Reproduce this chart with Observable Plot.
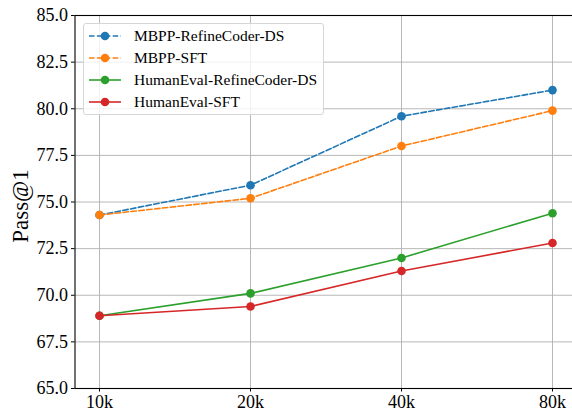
<!DOCTYPE html>
<html>
<head>
<meta charset="utf-8">
<script src="https://cdn.jsdelivr.net/npm/d3@7"></script>
<script src="https://cdn.jsdelivr.net/npm/@observablehq/plot@0.6"></script>
<style>
  html, body { margin: 0; padding: 0; background: white; overflow: hidden; }
  #wrap { position: relative; width: 572px; height: 416px; overflow: hidden; }
  #chart svg, #chart svg text { font-family: "Liberation Serif", "Times New Roman", serif !important; }
  #legend {
    position: absolute; left: 83px; top: 23px; width: 241px; height: 92px;
    box-sizing: border-box; border: 1px solid #d6d6d6; border-radius: 3px;
    background: rgba(255,255,255,0.8);
    font-family: "Liberation Serif", "Times New Roman", serif; font-size: 15.5px; color: #000;
  }
  .row { position: absolute; left: 0; height: 20px; display: flex; align-items: center; }
  .row svg { margin-left: 4px; }
  .row span { margin-left: 13px; white-space: nowrap; }
</style>
</head>
<body>
<div id="wrap"><div id="chart"></div><div id="legend"></div></div>
<script>
const sizes = ["10k", "20k", "40k", "80k"];
const seriesNames = ["MBPP-RefineCoder-DS", "MBPP-SFT", "HumanEval-RefineCoder-DS", "HumanEval-SFT"];
const mbppRefineCoder = [74.3, 75.9, 79.6, 81.0];
const mbppSFT = [74.3, 75.2, 78.0, 79.9];
const humanevalRefineCoder = [68.9, 70.1, 72.0, 74.4];
const humanevalSFT = [68.9, 69.4, 71.3, 72.8];
const colors = ["#1f77b4", "#ff7f0e", "#2ca02c", "#d62728"];
const dashed = [true, true, false, false];
const yTicks = [65, 67.5, 70, 72.5, 75, 77.5, 80, 82.5, 85];
const yLabel = "Pass@1";

const allValues = [mbppRefineCoder, mbppSFT, humanevalRefineCoder, humanevalSFT];
const series = seriesNames.map((name, i) => ({
  name, color: colors[i], dash: dashed[i] ? "5.5,2.4" : null,
  data: sizes.map((s, j) => ({size: s, value: allValues[i][j]}))
}));

const font = '"Liberation Serif", "Times New Roman", serif';
const marks = [
  Plot.gridX({stroke: "#b0b0b0", strokeOpacity: 1, strokeWidth: 0.9}),
  Plot.gridY(yTicks, {stroke: "#b0b0b0", strokeOpacity: 1, strokeWidth: 0.9}),
];
for (const s of series) {
  marks.push(Plot.line(s.data, {x: "size", y: "value", stroke: s.color, strokeWidth: 1.6,
    strokeDasharray: s.dash, curve: "linear"}));
  marks.push(Plot.dot(s.data, {x: "size", y: "value", fill: s.color, r: 4.3, stroke: "none"}));
}
marks.push(
  Plot.axisX({tickSize: 3.5, tickPadding: 3, fontSize: 18, fontFamily: font, label: null}),
  Plot.axisY({ticks: yTicks, tickFormat: d => d.toFixed(1), tickSize: 3.5, tickPadding: 3.5,
    fontSize: 18, fontFamily: font, label: null}),
  Plot.text([yLabel], {text: d => d, frameAnchor: "left", rotate: -90, dx: -54, dy: 4,
    fontSize: 23, fontFamily: font, fill: "black", textAnchor: "middle", lineAnchor: "middle"}),
  Plot.frame({stroke: "black", strokeWidth: 1.1})
);

const chart = Plot.plot({
  width: 572, height: 416,
  marginLeft: 74.5, marginRight: -4, marginTop: 15, marginBottom: 28,
  style: {fontFamily: font, fontSize: "18px", color: "black", background: "white", overflow: "hidden"},
  x: {type: "point", domain: sizes, padding: 0.15},
  y: {domain: [65, 85]},
  marks
});
document.getElementById("chart").appendChild(chart);

const legend = document.getElementById("legend");
const rowY = [2, 24, 46, 68];
series.forEach((s, i) => {
  const row = document.createElement("div");
  row.className = "row";
  row.style.top = rowY[i] + "px";
  row.innerHTML = `<svg width="33" height="12"><line x1="1" y1="6" x2="33" y2="6" stroke="${s.color}" stroke-width="1.6" ${s.dash ? `stroke-dasharray="${s.dash}"` : ""}/><circle cx="17" cy="6" r="4.3" fill="${s.color}"/></svg><span>${s.name}</span>`;
  legend.appendChild(row);
});
</script>
</body>
</html>
